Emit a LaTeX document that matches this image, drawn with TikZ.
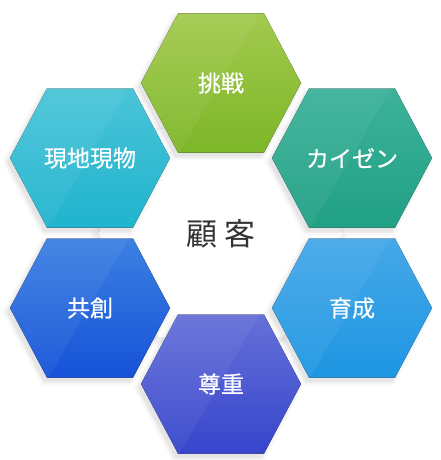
\documentclass[tikz,border=0pt]{standalone}
\usepackage{fontspec}
\setmainfont{Noto Sans CJK JP}
\newfontfamily\labelfont[FakeBold=0.5]{Noto Sans CJK JP}
\definecolor{gTop}{HTML}{A3CA4E}
\definecolor{gBot}{HTML}{7DB628}
\definecolor{tTop}{HTML}{3DB29A}
\definecolor{tBot}{HTML}{20A084}
\definecolor{lbTop}{HTML}{45A8E8}
\definecolor{lbBot}{HTML}{1E96E2}
\definecolor{iTop}{HTML}{6670D8}
\definecolor{iBot}{HTML}{3645CC}
\definecolor{bTop}{HTML}{3C80E2}
\definecolor{bBot}{HTML}{1652D8}
\definecolor{cTop}{HTML}{4AC4D8}
\definecolor{cBot}{HTML}{20B4CE}
\definecolor{centertext}{HTML}{333333}
\def\hexp{(-80,0) -- (-43,-69.5) -- (43,-69.5) -- (80,0) -- (43,69.5) -- (-43,69.5) -- cycle}
\def\bighexp{(-122,0) -- (-62,-104) -- (62,-104) -- (122,0) -- (62,104) -- (-62,104) -- cycle}
\tikzset{
  hexlabel/.style={text=white,font=\fontsize{23}{27}\labelfont,inner sep=0pt},
  centerlabel/.style={text=centertext,font=\fontsize{31}{36}\selectfont,inner sep=0pt}
}
\newcommand\hexcell[6]{%
  \begin{scope}[shift={(#1,#2)}]
    \foreach \s/\o in {1.06/0.015,1.04/0.02,1.02/0.03,1.0/0.035}{%
      \fill[black,opacity=\o,shift={(-3,4)},scale=\s] \hexp;}
    \fill[top color=#3,bottom color=#4] \hexp;
    \begin{scope}
      \clip \hexp;
      \fill[white,opacity=0.05] (-82,-72) -- (40,-72) -- (-43,72) -- (-82,72) -- cycle;
    \end{scope}
    \node[hexlabel] (#5) at (0,0) {#6};
  \end{scope}}
\begin{document}
\begin{tikzpicture}[x=1pt,y=-1pt]
  \useasboundingbox (0,0) rectangle (440,460);
  \fill[white] (0,0) rectangle (440,460);
  % central white hexagon with soft shadow
  \begin{scope}[shift={(221,233)}]
    \foreach \s/\o in {1.06/0.015,1.04/0.02,1.02/0.03}{%
      \fill[black,opacity=\o,shift={(-2,3)},scale=\s] \bighexp;}
    \fill[white] \bighexp;
  \end{scope}
  \hexcell{221}{83}{gTop}{gBot}{challenge}{挑戦}
  \hexcell{352}{158}{tTop}{tBot}{kaizen}{カイゼン}
  \hexcell{352}{308}{lbTop}{lbBot}{growth}{育成}
  \hexcell{221}{384}{iTop}{iBot}{respect}{尊重}
  \hexcell{90}{308}{bTop}{bBot}{cocreate}{共創}
  \hexcell{90}{158}{cTop}{cBot}{genchi}{現地現物}
  \node[centerlabel] (customer) at (221,234) {顧\hspace{7pt}客};
\end{tikzpicture}
\end{document}
